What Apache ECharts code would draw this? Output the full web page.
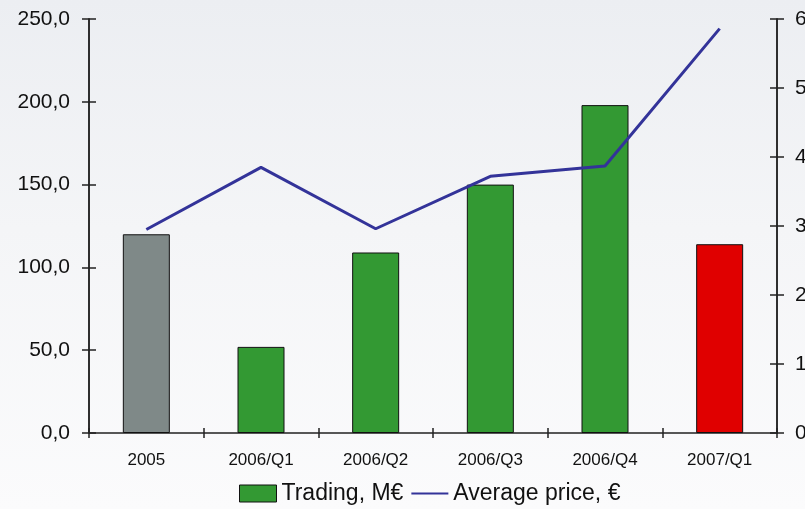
<!DOCTYPE html>
<html>
<head>
<meta charset="utf-8">
<script src="https://cdn.jsdelivr.net/npm/echarts@6/dist/echarts.min.js"></script>
<style>
  html,body{margin:0;padding:0;}
  #chart{width:805px;height:509px;background:linear-gradient(180deg,#eceef2 0%,#f4f5f7 45%,#fbfbfc 100%);}
</style>
</head>
<body>
<div id="chart"></div>
<script>
const categories = ["2005","2006/Q1","2006/Q2","2006/Q3","2006/Q4","2007/Q1"];
const trading = [120, 52, 109, 150, 198, 114];
const avgPrice = [2.95, 3.85, 2.96, 3.72, 3.87, 5.86];
const barColors = ["#7f8988","#339933","#339933","#339933","#339933","#e00000"];

const chart = echarts.init(document.getElementById("chart"));
const FONT = "Liberation Sans, Arial, sans-serif";
const axisLine = {show:true, lineStyle:{color:"#222", width:1.5}};

// primary axes (outside ticks + labels), twin axes only add inside ticks
const yBase = (pos, max, interval, fmt, labels, inside) => ({
  type:"value", position:pos, min:0, max, interval,
  axisLine, splitLine:{show:false},
  axisTick:{show:true, inside, length:7, lineStyle:{color:"#222", width:1.5}},
  axisLabel:{show:labels, color:"#111", fontFamily:FONT, fontSize:21, margin:pos==="left"?19:18, formatter:fmt}
});

chart.setOption({
  backgroundColor:"transparent",
  animation:false,
  grid:{left:89, right:28, top:19, bottom:76, containLabel:false, outerBoundsMode:"none"},
  legend:{
    bottom:4, left:239, padding:0, itemWidth:37, itemHeight:17, itemGap:7,
    textStyle:{fontFamily:FONT, fontSize:23, color:"#111"},
    data:[{name:"Trading, M€", icon:"rect", itemStyle:{color:"#339933", borderColor:"#111", borderWidth:1}},
          {name:"Average price, €", itemStyle:{color:"transparent", borderWidth:0, opacity:0}}]
  },
  xAxis:[
    {type:"category", data:categories, axisLine,
     axisTick:{show:true, length:5, lineStyle:{color:"#222", width:1.5}},
     axisLabel:{color:"#111", fontFamily:FONT, fontSize:17, margin:19}},
    {type:"category", data:categories, position:"bottom", axisLine:{show:false},
     axisTick:{show:true, inside:true, length:5, lineStyle:{color:"#222", width:1.5}},
     axisLabel:{show:false}}
  ],
  yAxis:[
    yBase("left", 250, 50, v=>v.toFixed(1).replace(".",","), true, false),
    yBase("right", 6, 1, v=>String(v), true, false),
    yBase("left", 250, 50, null, false, true),
    yBase("right", 6, 1, null, false, true)
  ],
  series:[
    {name:"Trading, M€", type:"bar", barWidth:47, xAxisIndex:0, yAxisIndex:0,
     itemStyle:{color:"#339933", borderColor:"#111", borderWidth:1},
     data:trading.map((v,i)=>({value:v, itemStyle:{color:barColors[i]}}))},
    {name:"Average price, €", type:"line", xAxisIndex:0, yAxisIndex:1,
     symbol:"none", lineStyle:{color:"#333399", width:3}, itemStyle:{color:"#333399"},
     data:avgPrice}
  ]
});
</script>
</body>
</html>
